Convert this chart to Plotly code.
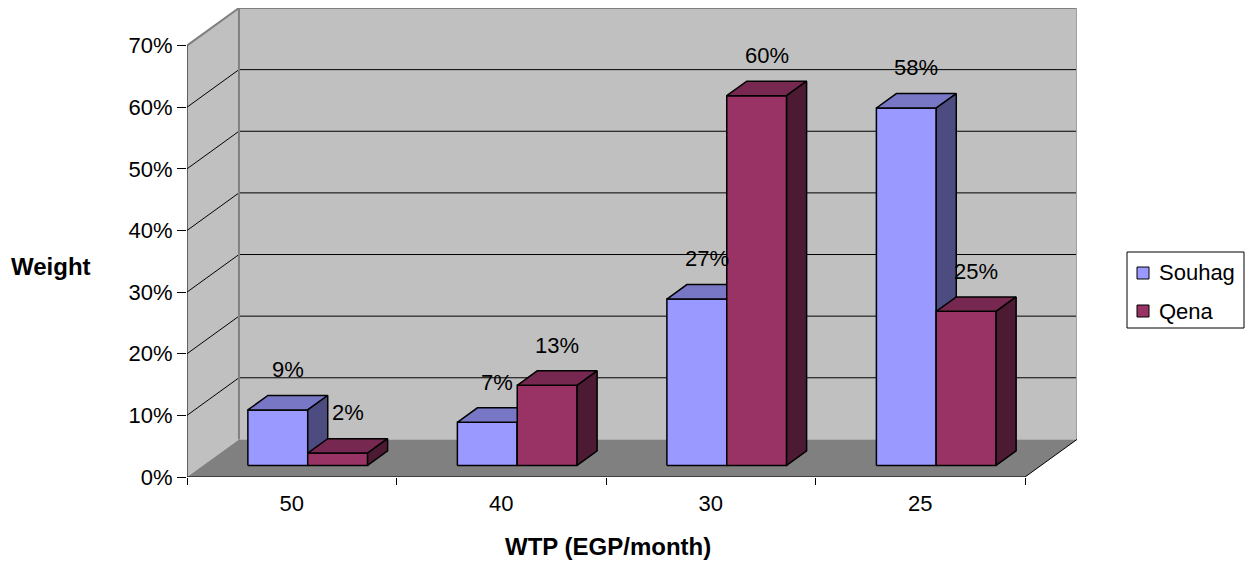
import plotly.graph_objects as go

# ---- data -------------------------------------------------------------
categories = ["50", "40", "30", "25"]          # WTP (EGP/month)
souhag = [9, 7, 27, 58]                        # % weight, Souhag
qena = [2, 13, 60, 25]                         # % weight, Qena
series_names = ["Souhag", "Qena"]
y_ticks = [0, 10, 20, 30, 40, 50, 60, 70]

# ---- styling ----------------------------------------------------------
FONT = "Liberation Sans, Arial, sans-serif"
FRONT = {"Souhag": "#9999FF", "Qena": "#993366"}
TOP = {"Souhag": "#7777C6", "Qena": "#772850"}
SIDE = {"Souhag": "#4C4C80", "Qena": "#4C1A33"}
WALL = "#C0C0C0"
FLOOR = "#808080"

FIG_W, FIG_H = 1252, 562
ML, MR, MT, MB = 187, 175, 8, 85
PLOT_W = FIG_W - ML - MR
PLOT_H = FIG_H - MT - MB

n = len(categories)
YMAX = y_ticks[-1]
DX = 0.248            # depth of the box along x (category units)
DY = 6.1              # depth of the box along y (percent units)
BAR_W = 1 / 3.5       # two bars + gap width 150 %
GAP = 0.75 * BAR_W
F0 = 0.3075           # front plane of the bars inside the depth
BD = 0.385            # bar depth as a share of the box depth


def px_x(px):
    return (px - ML) / PLOT_W


def px_y(py):
    return (FIG_H - MB - py) / PLOT_H


fig = go.Figure()


def poly(xs, ys, fill, line_color=None, line_width=0):
    fig.add_trace(go.Scatter(
        x=xs, y=ys, mode="lines", fill="toself", fillcolor=fill,
        line=dict(color=line_color or fill, width=line_width),
        hoverinfo="skip", showlegend=False))


def lines(xs, ys, color, width):
    fig.add_trace(go.Scatter(
        x=xs, y=ys, mode="lines", line=dict(color=color, width=width),
        hoverinfo="skip", showlegend=False))


# walls and floor
poly([0, DX, DX, 0, 0], [0, DY, YMAX + DY, YMAX, 0], WALL)
poly([DX, n + DX, n + DX, DX, DX], [DY, DY, YMAX + DY, YMAX + DY, DY], WALL)
poly([0, n, n + DX, DX, 0], [0, 0, DY, DY, 0], FLOOR)

# gridlines on the side and back walls
gx, gy = [], []
for v in y_ticks[1:-1]:
    gx += [0, DX, n + DX, None]
    gy += [v, v + DY, v + DY, None]
lines(gx, gy, "#000000", 1)

# wall edges
lines([0, DX, n + DX], [YMAX, YMAX + DY, YMAX + DY], "#808080", 2)
lines([DX, DX], [DY, YMAX + DY], "#808080", 2)
lines([n + DX, n + DX], [DY, YMAX + DY], "#A0A0A0", 2)
lines([n, n + DX], [0, DY], "#000000", 1)

# front axis lines
lines([0, 0], [0, YMAX], "#000000", 1)
lines([0, n], [0, 0], "#000000", 1)

# 3-D columns
ddx, ddy = BD * DX, BD * DY
annotations = []
for s, (name, vals) in enumerate(zip(series_names, [souhag, qena])):
    fx, fy, tx, ty, sx, sy = [], [], [], [], [], []
    for i, v in enumerate(vals):
        x0 = i + GAP + s * BAR_W + F0 * DX
        x1 = x0 + BAR_W
        y0 = F0 * DY
        y1 = y0 + v
        fx += [x0, x1, x1, x0, x0, None]
        fy += [y0, y0, y1, y1, y0, None]
        tx += [x0, x1, x1 + ddx, x0 + ddx, x0, None]
        ty += [y1, y1, y1 + ddy, y1 + ddy, y1, None]
        sx += [x1, x1 + ddx, x1 + ddx, x1, x1, None]
        sy += [y0, y0 + ddy, y1 + ddy, y1, y0, None]
        annotations.append(dict(
            x=(x0 + x1) / 2 + ddx / 2, y=y1 + ddy / 2, xref="x", yref="y",
            text=f"{v}%", showarrow=False, yshift=33,
            xanchor="center", yanchor="middle",
            font=dict(family=FONT, size=22, color="#000000")))
    poly(fx, fy, FRONT[name], "#000000", 1.5)
    poly(tx, ty, TOP[name], "#000000", 1.5)
    poly(sx, sy, SIDE[name], "#000000", 1.5)

# axis titles
annotations.append(dict(
    x=px_x(608), y=px_y(546), xref="paper", yref="paper",
    text="<b>WTP (EGP/month)</b>", showarrow=False,
    xanchor="center", yanchor="middle",
    font=dict(family=FONT, size=24, color="#000000")))
annotations.append(dict(
    x=px_x(51), y=px_y(266), xref="paper", yref="paper",
    text="<b>Weight</b>", showarrow=False,
    xanchor="center", yanchor="middle",
    font=dict(family=FONT, size=24, color="#000000")))

# legend
shapes = [dict(type="rect", xref="paper", yref="paper",
               x0=px_x(1127), x1=px_x(1244), y0=px_y(328), y1=px_y(252),
               line=dict(color="#000000", width=1), fillcolor="#FFFFFF")]
for k, name in enumerate(series_names):
    cy = 273 + 38 * k
    shapes.append(dict(type="rect", xref="paper", yref="paper",
                       x0=px_x(1137), x1=px_x(1149),
                       y0=px_y(cy + 6), y1=px_y(cy - 6),
                       line=dict(color="#000000", width=1),
                       fillcolor=FRONT[name]))
    annotations.append(dict(
        x=px_x(1157), y=px_y(cy), xref="paper", yref="paper",
        text=name, showarrow=False, xanchor="left", yanchor="middle",
        font=dict(family=FONT, size=22, color="#000000")))

fig.update_layout(
    width=FIG_W, height=FIG_H,
    margin=dict(l=ML, r=MR, t=MT, b=MB, pad=0),
    paper_bgcolor="#FFFFFF", plot_bgcolor="rgba(0,0,0,0)",
    showlegend=False,
    font=dict(family=FONT, size=22, color="#000000"),
    annotations=annotations, shapes=shapes,
    xaxis=dict(
        range=[0, n + DX], tickmode="array",
        tickvals=[i + 0.5 for i in range(n)], ticktext=categories,
        ticks="", showline=False, showgrid=False, zeroline=False,
        ticklabelstandoff=11,
        tickfont=dict(family=FONT, size=22, color="#000000"),
        minor=dict(tickmode="array", tickvals=list(range(n + 1)),
                   ticks="outside", ticklen=7, tickcolor="#000000",
                   tickwidth=1, showgrid=False),
        fixedrange=True),
    yaxis=dict(
        range=[0, YMAX + DY], tickmode="array", tickvals=y_ticks,
        ticktext=[f"{t}%" for t in y_ticks],
        ticks="outside", ticklen=9, tickcolor="#000000", tickwidth=1,
        showline=False, showgrid=False, zeroline=False,
        tickfont=dict(family=FONT, size=22, color="#000000"),
        fixedrange=True),
)

fig.write_html("out.html")
